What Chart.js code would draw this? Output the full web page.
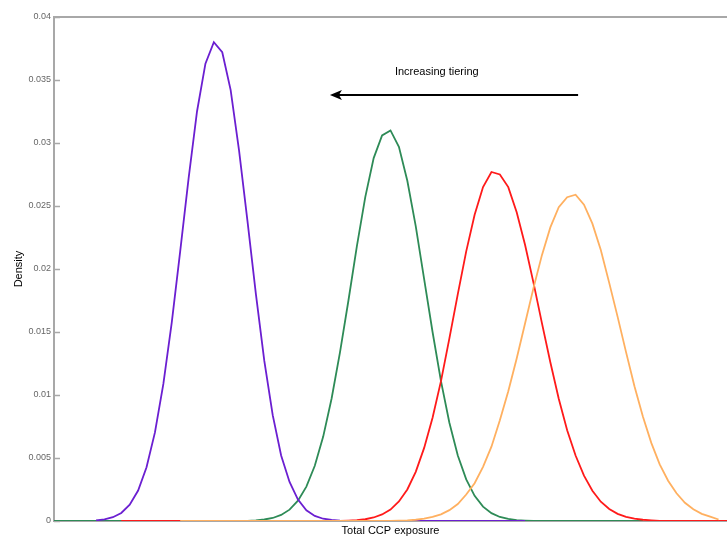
<!DOCTYPE html>
<html>
<head>
<meta charset="utf-8">
<script src="https://cdn.jsdelivr.net/npm/chart.js@4/dist/chart.umd.min.js"></script>
<style>
  html, body { margin: 0; padding: 0; background: #fff; }
  canvas { display: block; }
</style>
</head>
<body>
<canvas id="densityChart" width="727" height="538"></canvas>
<script>
'use strict';

// grid of exposure points the densities were evaluated on
const exposure = [
    0, 1, 2, 3, 4, 5, 6, 7, 8, 9, 10, 11, 12, 13, 14, 15, 16, 17, 18, 19,
    20, 21, 22, 23, 24, 25, 26, 27, 28, 29, 30, 31, 32, 33, 34, 35, 36, 37, 38, 39,
    40, 41, 42, 43, 44, 45, 46, 47, 48, 49, 50, 51, 52, 53, 54, 55, 56, 57, 58, 59,
    60, 61, 62, 63, 64, 65, 66, 67, 68, 69, 70, 71, 72, 73, 74, 75, 76, 77, 78, 79, 80
];

// density estimates, one per tiering level (null = outside that estimate's range)
const tierPurple = [
    null, null, null, null, null, 0.00005, 0.00013, 0.0003, 0.00064, 0.00129,
    0.00242, 0.00426, 0.00703, 0.01088, 0.01576, 0.0214, 0.0272, 0.0325, 0.0363, 0.038,
    0.0372, 0.0342, 0.0294, 0.0238, 0.018, 0.0127, 0.0084, 0.0052, 0.0031, 0.0017,
    0.00085, 0.0004, 0.00018, 0.00008, 0.00003, 0, 0, 0, 0, 0,
    0, 0, 0, 0, 0, 0, 0, 0, 0, 0,
    0, 0, 0, 0, 0, 0, 0, null, null, null,
    null, null, null, null, null, null, null, null, null, null,
    null, null, null, null, null, null, null, null, null, null, null
];

const tierGreen = [
    0, 0, 0, 0, 0, 0, 0, 0, 0, 0,
    0, 0, 0, 0, 0, 0, 0, 0, 0, 0,
    0, 0, 0, 0, 0.00005, 0.00012, 0.00024, 0.00048, 0.0009, 0.00161,
    0.00273, 0.00438, 0.0067, 0.00972, 0.0134, 0.0175, 0.0218, 0.0257, 0.0288, 0.0306,
    0.031, 0.0297, 0.027, 0.0234, 0.0192, 0.015, 0.0111, 0.0078, 0.0052, 0.0033,
    0.002, 0.00114, 0.00062, 0.00032, 0.00016, 0.00007, 0.00003, 0, 0, 0,
    0, 0, 0, 0, 0, 0, 0, 0, 0, 0,
    0, null, null, null, null, null, null, null, null, null, null
];

const tierRed = [
    null, null, null, null, null, null, null, null, 0, 0,
    0, 0, 0, 0, 0, 0, 0, 0, 0, 0,
    0, 0, 0, 0, 0, 0, 0, 0, 0, 0,
    0, 0, 0, 0, 0, 0.00003, 0.00007, 0.00014, 0.00028, 0.00052,
    0.00091, 0.00155, 0.0025, 0.0039, 0.0058, 0.0082, 0.0111, 0.0145, 0.018, 0.0214,
    0.0243, 0.0265, 0.0277, 0.0275, 0.0265, 0.0245, 0.0219, 0.0189, 0.0157, 0.0126,
    0.0097, 0.0072, 0.0052, 0.0036, 0.0024, 0.00153, 0.00095, 0.00057, 0.00033, 0.00018,
    0.0001, 0.00005, 0, 0, 0, 0, 0, 0, 0, 0, 0
];

const tierOrange = [
    null, null, null, null, null, null, null, null, null, null,
    null, null, null, null, null, 0, 0, 0, 0, 0,
    0, 0, 0, 0, 0, 0, 0, 0, 0, 0,
    0, 0, 0, 0, 0, 0, 0, 0, 0, 0,
    0, 0.00003, 0.00005, 0.0001, 0.00018, 0.00032, 0.00053, 0.00086, 0.00135, 0.0021,
    0.003, 0.0043, 0.0059, 0.008, 0.0103, 0.0129, 0.0157, 0.0185, 0.0211, 0.0233,
    0.0249, 0.0257, 0.0259, 0.0251, 0.0236, 0.0215, 0.0189, 0.0162, 0.0134, 0.0107,
    0.0083, 0.0062, 0.0045, 0.0032, 0.0022, 0.00145, 0.00093, 0.00057, 0.00034, 0.00012, null
];

const yTicksMax = 0.04;
const yTickStep = 0.005;

// arrow annotation, in data units
const arrowText = 'Increasing tiering';
const arrowFrom = 62.3;
const arrowTo = 32.8;
const arrowLevel = 0.0338;
const arrowTextX = 45.5;
const arrowTextLevel = 0.0356;

const AXIS_GREY = '#a8a8a8';
const FONT = '"Liberation Sans", Arial, sans-serif';

function toPoints(values) {
    return values.map((v, i) => ({x: exposure[i], y: v}));
}

// top frame line and inward y tick marks
const frameLines = {
    id: 'frameLines',
    beforeDatasetsDraw(chart) {
        const {ctx, chartArea, scales} = chart;
        ctx.save();
        ctx.strokeStyle = AXIS_GREY;
        ctx.lineWidth = 2;
        ctx.beginPath();
        ctx.moveTo(chartArea.left - 1, chartArea.top);
        ctx.lineTo(chartArea.right, chartArea.top);
        ctx.stroke();

        ctx.lineWidth = 1.5;
        ctx.beginPath();
        scales.y.ticks.forEach(t => {
            const y = Math.round(scales.y.getPixelForValue(t.value)) + 0.5;
            ctx.moveTo(chartArea.left, y);
            ctx.lineTo(chartArea.left + 6, y);
        });
        ctx.stroke();
        ctx.restore();
    }
};

const tieringArrow = {
    id: 'tieringArrow',
    afterDatasetsDraw(chart) {
        const {ctx, scales} = chart;
        const x0 = scales.x.getPixelForValue(arrowFrom);
        const x1 = scales.x.getPixelForValue(arrowTo);
        const y = scales.y.getPixelForValue(arrowLevel);
        ctx.save();
        ctx.strokeStyle = '#000';
        ctx.fillStyle = '#000';
        ctx.lineWidth = 2;
        ctx.beginPath();
        ctx.moveTo(x0, y);
        ctx.lineTo(x1 + 6, y);
        ctx.stroke();
        ctx.beginPath();
        ctx.moveTo(x1, y);
        ctx.lineTo(x1 + 12, y - 5);
        ctx.lineTo(x1 + 9, y);
        ctx.lineTo(x1 + 12, y + 5);
        ctx.closePath();
        ctx.fill();

        ctx.font = '11px ' + FONT;
        ctx.textAlign = 'center';
        ctx.textBaseline = 'middle';
        ctx.fillText(arrowText, scales.x.getPixelForValue(arrowTextX), scales.y.getPixelForValue(arrowTextLevel));
        ctx.restore();
    }
};

function curve(values, colour) {
    return {
        data: toPoints(values),
        borderColor: colour,
        borderWidth: 1.8,
        pointRadius: 0,
        tension: 0,
        fill: false,
        spanGaps: false
    };
}

new Chart(document.getElementById('densityChart'), {
    type: 'line',
    data: {
        // first dataset ends up on top
        datasets: [
            curve(tierOrange, '#ffb060'),
            curve(tierRed, '#ff1a1a'),
            curve(tierPurple, '#6b1fd1'),
            curve(tierGreen, '#2e8b57')
        ]
    },
    options: {
        responsive: false,
        animation: false,
        layout: {padding: {top: 17, right: 0, left: 0, bottom: 0}},
        plugins: {legend: {display: false}, tooltip: {enabled: false}},
        scales: {
            x: {
                type: 'linear',
                min: 0,
                max: 80,
                grid: {display: false},
                border: {display: true, color: AXIS_GREY, width: 2},
                ticks: {display: false},
                title: {
                    display: true,
                    text: 'Total CCP exposure',
                    color: '#000',
                    font: {family: FONT, size: 11},
                    padding: 0
                },
                afterFit: s => { s.height = 17; }
            },
            y: {
                min: 0,
                max: yTicksMax,
                grid: {display: false, drawTicks: false},
                border: {display: true, color: AXIS_GREY, width: 2},
                ticks: {
                    stepSize: yTickStep,
                    padding: 3,
                    color: '#666',
                    font: {family: FONT, size: 9},
                    callback: v => String(+v.toFixed(3))
                },
                title: {
                    display: true,
                    text: 'Density',
                    color: '#000',
                    font: {family: FONT, size: 11},
                    padding: {top: 12, bottom: 0}
                },
                afterFit: s => { s.width = 54; }
            }
        }
    },
    plugins: [frameLines, tieringArrow]
});
</script>
</body>
</html>
